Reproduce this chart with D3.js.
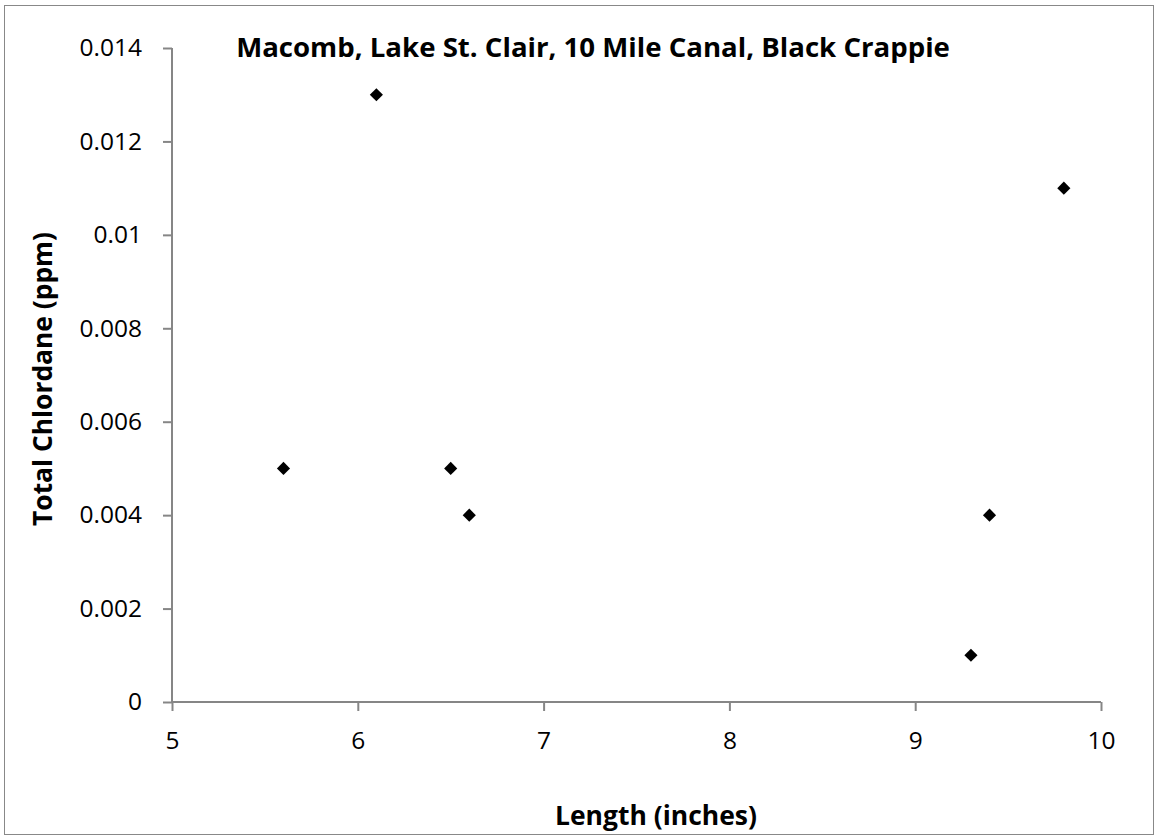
<!DOCTYPE html>
<html><head><meta charset="utf-8">
<script src="https://cdn.jsdelivr.net/npm/d3@7"></script>
<style>body{margin:0;background:#fff}svg{display:block}</style>
</head><body>
<script>
const lengths = [5.6, 6.1, 6.5, 6.6, 9.3, 9.4, 9.8];
const chlordane = [0.005, 0.013, 0.005, 0.004, 0.001, 0.004, 0.011];
const xTicks = [5, 6, 7, 8, 9, 10];
const yTicks = [0, 0.002, 0.004, 0.006, 0.008, 0.01, 0.012, 0.014];
const title = "Macomb, Lake St. Clair, 10 Mile Canal, Black Crappie";
const xTitle = "Length (inches)";
const yTitle = "Total Chlordane (ppm)";

const W = 1156, H = 840;
const font = "'Open Sans', Lato, sans-serif";
const svg = d3.select("body").append("svg").attr("width", W).attr("height", H);
svg.append("rect").attr("x", 4.5).attr("y", 5.5).attr("width", 1149).attr("height", 829)
  .attr("fill", "#fff").attr("stroke", "#888").attr("stroke-width", 1);

const x = d3.scaleLinear().domain([5, 10]).range([172, 1101]);
const y = d3.scaleLinear().domain([0, 0.014]).range([702, 48]);

const gx = svg.append("g").attr("transform", `translate(0,${y(0)})`)
  .call(d3.axisBottom(x).tickValues(xTicks).tickSize(9).tickPadding(21).tickFormat(d3.format("d")));
const gy = svg.append("g").attr("transform", `translate(${x(5)},0)`)
  .call(d3.axisLeft(y).tickValues(yTicks).tickSize(9).tickPadding(21).tickFormat(d => d === 0 ? "0" : String(+d.toFixed(3))));
[gx, gy].forEach(g => {
  g.selectAll("path,line").attr("stroke", "#868686").attr("stroke-width", 2);
  g.selectAll("text").attr("font-family", font).attr("font-size", 24.5).attr("fill", "#000");
});
gx.select(".domain").attr("d", `M${x(5)},0H${x(10)}`);
gx.selectAll(".tick text").attr("dy", "0.71em");
gy.select(".domain").attr("d", `M0,${y(0)}V${y(0.014)}`);

svg.append("g").selectAll("path").data(lengths).join("path")
  .attr("d", d3.symbol().type(d3.symbolDiamond2).size(110))
  .attr("transform", (d, i) => `translate(${x(d)},${y(chlordane[i])})`)
  .attr("fill", "#000");

function fit(sel, target, base) {
  sel.attr("font-size", base);
  const w = sel.node().getComputedTextLength();
  sel.attr("font-size", base * target / w);
}
const t = svg.append("text").attr("x", 593).attr("y", 57).attr("text-anchor", "middle")
  .attr("font-family", font).attr("font-weight", "bold").attr("fill", "#000").text(title);
fit(t, 714, 24);
const xt = svg.append("text").attr("x", 656).attr("y", 825).attr("text-anchor", "middle")
  .attr("font-family", font).attr("font-weight", "bold").attr("fill", "#000").text(xTitle);
fit(xt, 202, 24);
const yt = svg.append("text").attr("transform", "translate(52,379) rotate(-90)").attr("text-anchor", "middle")
  .attr("font-family", font).attr("font-weight", "bold").attr("fill", "#000").text(yTitle);
fit(yt, 294, 28);
</script>
</body></html>
